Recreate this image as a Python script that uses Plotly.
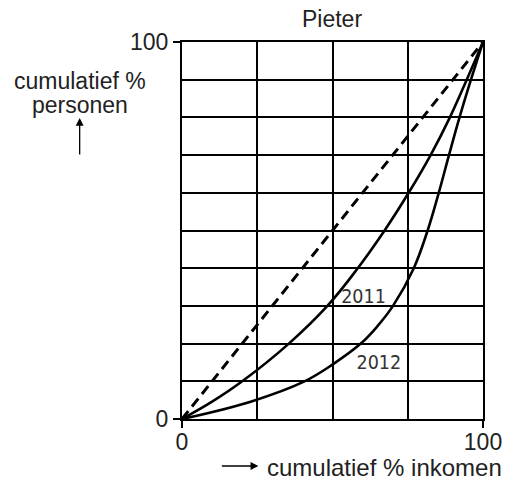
import plotly.graph_objects as go

# Lorenz curve data (cumulatief % inkomen, cumulatief % personen)
x_2011 = [0, 10, 20, 35.5, 48.3, 58.4, 67.3, 75.3, 82.6, 89.0, 94.6, 100]
y_2011 = [0, 4.6, 10, 20, 30, 40, 50, 60, 70, 80, 90, 100]

x_2012 = [0, 22.8, 40.5, 50.1, 59.4, 64.8, 70.1, 77.0, 81.6, 85.3, 88.7, 92.2, 96, 100]
y_2012 = [0, 4.6, 9.9, 14.5, 20, 24.5, 30, 40, 50, 60, 70, 80, 90, 100]

x_equal = [0, 100]
y_equal = [0, 100]

labels = ["2011", "2012"]
label_x = [60.3, 65.4]
label_y = [32.1, 14.6]

tick_vals = [0, 100]
tick_text = ["0", "100"]

FONT = "Liberation Sans, Arial, sans-serif"
NARROW = "Liberation Sans Narrow, Arial Narrow, DejaVu Sans Condensed, sans-serif"

fig = go.Figure()
fig.add_trace(go.Scatter(x=x_equal, y=y_equal, mode="lines",
                         line=dict(color="black", width=3, dash="10px,6px"),
                         hoverinfo="skip"))
fig.add_trace(go.Scatter(x=x_2011, y=y_2011, mode="lines",
                         line=dict(color="black", width=2.6, shape="spline", smoothing=1.1),
                         name="2011"))
fig.add_trace(go.Scatter(x=x_2012, y=y_2012, mode="lines",
                         line=dict(color="black", width=2.6, shape="spline", smoothing=1.1),
                         name="2012"))
fig.add_trace(go.Scatter(x=label_x, y=label_y, mode="text", text=labels,
                         textfont=dict(family=NARROW, size=19.5, color="#333333"),
                         hoverinfo="skip"))

axis_common = dict(
    showline=True, linecolor="black", linewidth=2, mirror=True,
    ticks="outside", ticklen=7, tickwidth=1.5, tickcolor="black",
    showgrid=False, zeroline=False, automargin=False,
    tickfont=dict(family=FONT, size=23, color="#222222"),
    fixedrange=True,
)

fig.update_xaxes(range=[0, 100], tickvals=tick_vals, ticktext=tick_text,
                 ticklabelstandoff=-6,
                 minor=dict(tickvals=[25, 50, 75], showgrid=True, gridcolor="black",
                            gridwidth=1.5, ticks=""),
                 **axis_common)
fig.update_yaxes(range=[0, 100], tickvals=tick_vals, ticktext=tick_text,
                 minor=dict(tickvals=[10, 20, 30, 40, 50, 60, 70, 80, 90], showgrid=True,
                            gridcolor="black", gridwidth=1.5, ticks=""),
                 **axis_common)

W, H = 505, 491
L, R, T, B = 181.5, 22, 42, 72
pw, ph = W - L - R, H - T - B

def px2paper(px, py):
    return (px - L) / pw, (H - B - py) / ph

annotations = []
# y-axis title
for txt, cy in [("cumulatief %", 81), ("personen", 105)]:
    ax_, ay_ = px2paper(79, cy)
    annotations.append(dict(xref="paper", yref="paper", x=ax_, y=ay_, text=txt,
                            showarrow=False, xanchor="center", yanchor="middle",
                            font=dict(family=FONT, size=23, color="#222222")))
hx, hy = px2paper(79, 118)
annotations.append(dict(xref="paper", yref="paper", x=hx, y=hy, text="",
                        showarrow=True, ax=0, ay=38, arrowhead=2, arrowsize=1.2,
                        arrowwidth=1.3, arrowcolor="black", standoff=0))
# x-axis title
hx, hy = px2paper(258, 466)
annotations.append(dict(xref="paper", yref="paper", x=hx, y=hy, text="",
                        showarrow=True, ax=-38, ay=0, arrowhead=2, arrowsize=1.2,
                        arrowwidth=1.3, arrowcolor="black", standoff=0))
tx, ty = px2paper(265, 467)
annotations.append(dict(xref="paper", yref="paper", x=tx, y=ty, text="cumulatief % inkomen",
                        showarrow=False, xanchor="left", yanchor="middle",
                        font=dict(family=FONT, size=24, color="#222222")))

fig.update_layout(
    width=W, height=H,
    margin=dict(l=L, r=R, t=T, b=B, pad=0, autoexpand=False),
    paper_bgcolor="white", plot_bgcolor="white",
    showlegend=False,
    title=dict(text="Pieter", x=332 / W, xanchor="center",
               y=1 - 19 / H, yanchor="middle", yref="container",
               font=dict(family=FONT, size=23, color="#222222")),
    annotations=annotations,
)

fig.write_html("out.html", config={"displayModeBar": False},
               post_script="document.body.style.margin='0';document.body.style.overflow='hidden';")
